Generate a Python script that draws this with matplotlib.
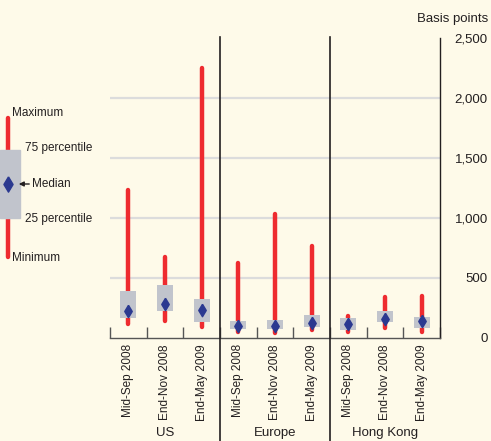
import matplotlib.pyplot as plt
from matplotlib.path import Path

# ------------------ DATA (basis points) ------------------
regions = ["US", "Europe", "Hong Kong"]
dates = ["Mid-Sep 2008", "End-Nov 2008", "End-May 2009"]

minimum = [117, 145, 92, 53, 39, 64, 53, 81, 47]
p25 = [167, 227, 133, 78, 78, 89, 67, 133, 86]
median = [225, 283, 231, 103, 103, 122, 117, 156, 142]
p75 = [394, 439, 322, 142, 150, 192, 169, 225, 178]
maximum = [1233, 678, 2247, 628, 1036, 769, 183, 344, 350]

yticks = [0, 500, 1000, 1500, 2000, 2500]

# ------------------ STYLE ------------------
bg = "#fefae9"
red = "#ee2b2f"
box_col = "#c1c4cc"
blue = "#2b3990"
txt = "#231f20"

plt.rcParams["font.family"] = ["Liberation Sans", "DejaVu Sans"]

fig = plt.figure(figsize=(4.91, 4.41), dpi=100, facecolor=bg)
W, H = 491, 441
ax = fig.add_axes([110 / W, (H - 338) / H, 330 / W, 300 / H], facecolor=bg)

n = len(median)
xs = [i + 0.5 for i in range(n)]

# diamond marker
diamond = Path([(0, 1), (0.6, 0), (0, -1), (-0.6, 0), (0, 1)])

# gridlines
for y in yticks[1:-1]:
    ax.axhline(y, color="#dcdcdc", lw=1.6, zorder=0)

for x, lo, q1, md, q3, hi in zip(xs, minimum, p25, median, p75, maximum):
    ax.plot([x, x], [lo, hi], color=red, lw=3.2, solid_capstyle="round", zorder=2)
    ax.bar(x, q3 - q1, bottom=q1, width=0.44, color=box_col, zorder=3)
    ax.plot(x, md, marker=diamond, ms=9, color=blue, zorder=4)

ax.set_xlim(0, n)
ax.set_ylim(0, 2500)

# axes styling
for s in ["top", "left"]:
    ax.spines[s].set_visible(False)
ax.spines["right"].set_color(txt)
ax.spines["bottom"].set_color("#555555")
ax.spines["right"].set_linewidth(1.0)
ax.spines["bottom"].set_linewidth(1.0)

ax.yaxis.tick_right()
ax.set_yticks(yticks)
ax.set_yticklabels([f"{v:,}" for v in yticks], fontsize=9.5, color=txt, ha="right")
ax.tick_params(axis="y", length=0, pad=34.5)

ax.set_xticks(range(n + 1))
ax.set_xticklabels([])
ax.tick_params(axis="x", direction="in", length=8, color="#555555", width=1)

# category labels
for x, lab in zip(xs, dates * len(regions)):
    ax.text(x, -50, lab, rotation=90, ha="center", va="top", fontsize=8.5,
            color=txt, transform=ax.transData)

# group labels and dividers
for g, name in enumerate(regions):
    ax.text(g * 3 + 1.5, -790, name, ha="center", va="center", fontsize=9.5, color=txt)
for g in [3, 6]:
    ax.plot([g, g], [2508, -860], color=txt, lw=1.2, clip_on=False, zorder=5)

fig.text(488 / W, 1 - 19 / H, "Basis points", ha="right", va="center",
         fontsize=9.5, color=txt)

# ------------------ LEGEND KEY (left) ------------------
lg = fig.add_axes([0, 0, 1, 1], facecolor="none")
lg.set_xlim(0, W)
lg.set_ylim(H, 0)
lg.axis("off")
lg.plot([8, 8], [118, 257], color=red, lw=3.2, solid_capstyle="round")
lg.add_patch(plt.Rectangle((0, 150), 20, 68, color=box_col, zorder=2))
lg.plot(8, 184, marker=diamond, ms=11, color=blue, zorder=3)
lg.annotate("", xy=(16, 184), xytext=(32, 184),
            arrowprops=dict(arrowstyle="-|>", color=txt, lw=1, mutation_scale=7))
lg.text(12, 113, "Maximum", fontsize=8.5, color=txt, va="center")
lg.text(25, 148, "75 percentile", fontsize=8.5, color=txt, va="center")
lg.text(32, 184, "Median", fontsize=8.5, color=txt, va="center")
lg.text(25, 219, "25 percentile", fontsize=8.5, color=txt, va="center")
lg.text(12, 258, "Minimum", fontsize=8.5, color=txt, va="center")

fig.savefig("out.png", dpi=100, facecolor=bg)
